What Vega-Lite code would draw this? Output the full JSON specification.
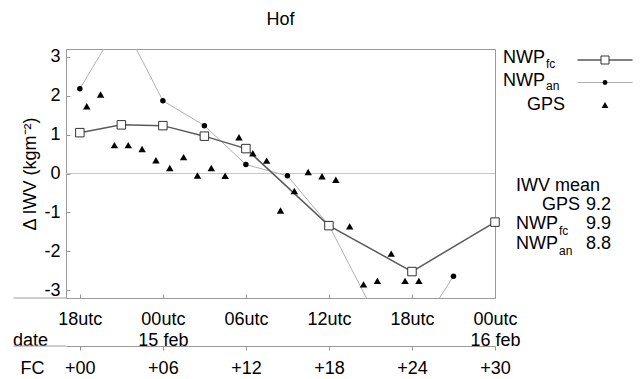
{
  "$schema": "https://vega.github.io/schema/vega-lite/v6.json",
  "width": 429,
  "height": 249,
  "autosize": {"type": "none"},
  "padding": {"left": 66, "top": 49, "right": 145, "bottom": 81},
  "background": "white",
  "title": {"text": "Hof", "anchor": "middle", "frame": "group", "fontSize": 18, "fontWeight": "normal", "font": "Liberation Sans", "color": "#000", "baseline": "bottom", "offset": 1},
  "datasets": {
    "fc": [
      {"h": 0, "v": 1.05}, {"h": 3, "v": 1.25}, {"h": 6, "v": 1.23}, {"h": 9, "v": 0.96},
      {"h": 12, "v": 0.64}, {"h": 18, "v": -1.34}, {"h": 24, "v": -2.52}, {"h": 30, "v": -1.25}
    ],
    "an": [
      {"h": 0, "v": 2.18}, {"h": 3, "v": 3.95}, {"h": 6, "v": 1.87}, {"h": 9, "v": 1.23},
      {"h": 12, "v": 0.23}, {"h": 15, "v": -0.06}, {"h": 18, "v": -1.33}, {"h": 21, "v": -3.4},
      {"h": 24, "v": -4.3}, {"h": 27, "v": -2.64}
    ],
    "gps": [
      {"h": 0.5, "v": 1.73}, {"h": 1.5, "v": 2.03}, {"h": 2.5, "v": 0.73}, {"h": 3.5, "v": 0.73},
      {"h": 4.5, "v": 0.63}, {"h": 5.5, "v": 0.34}, {"h": 6.5, "v": 0.14}, {"h": 7.5, "v": 0.42},
      {"h": 8.5, "v": -0.05}, {"h": 9.5, "v": 0.14}, {"h": 10.5, "v": -0.06}, {"h": 11.5, "v": 0.93},
      {"h": 12.5, "v": 0.52}, {"h": 13.5, "v": 0.33}, {"h": 14.5, "v": -0.95}, {"h": 15.5, "v": -0.45},
      {"h": 16.5, "v": 0.04}, {"h": 17.5, "v": -0.07}, {"h": 18.5, "v": -0.16}, {"h": 19.5, "v": -1.36},
      {"h": 20.5, "v": -2.85}, {"h": 21.5, "v": -2.76}, {"h": 22.5, "v": -2.06}, {"h": 23.5, "v": -2.76},
      {"h": 24.5, "v": -2.76}
    ],
    "side": [
      {"part": "legend", "key": "fc", "name": "NWP", "sub": "fc"},
      {"part": "legend", "key": "an", "name": "NWP", "sub": "an"},
      {"part": "legend", "key": "gps", "name": "GPS", "sub": ""},
      {"part": "table", "key": "head", "name": "IWV mean", "sub": ""},
      {"part": "table", "key": "gps", "name": "GPS", "sub": "", "mean": 9.2},
      {"part": "table", "key": "fc", "name": "NWP", "sub": "fc", "mean": 9.9},
      {"part": "table", "key": "an", "name": "NWP", "sub": "an", "mean": 8.8}
    ],
    "one": [{}]
  },
  "config": {
    "font": "Liberation Sans",
    "view": {"stroke": "#999999", "strokeWidth": 1},
    "axis": {
      "grid": false,
      "labelFont": "Liberation Sans", "labelFontSize": 18, "labelColor": "#000",
      "titleFont": "Liberation Sans", "titleFontSize": 18, "titleFontWeight": "normal", "titleColor": "#000",
      "tickColor": "#999999", "domainColor": "#999999"
    }
  },
  "layer": [
    {
      "layer": [
        {
          "data": {"name": "one"},
          "mark": {"type": "rule", "color": "#c8c8c8", "strokeWidth": 1},
          "encoding": {"y": {"datum": 0, "type": "quantitative"}}
        },
        {
          "data": {"name": "one"},
          "mark": {"type": "rule", "color": "#999999", "strokeWidth": 1},
          "encoding": {
            "x": {"datum": -4.8, "type": "quantitative", "axis": null},
            "x2": {"datum": -1},
            "y": {"datum": -3.2, "type": "quantitative"}
          }
        },
        {
          "data": {"name": "one"},
          "mark": {"type": "rule", "color": "#999999", "strokeWidth": 1},
          "encoding": {
            "x": {"datum": -4.8, "type": "quantitative", "axis": null},
            "x2": {"datum": -1},
            "y": {"datum": -4.434, "type": "quantitative"}
          }
        },
        {
          "data": {"name": "an"},
          "mark": {"type": "line", "color": "#b0b0b0", "strokeWidth": 1, "clip": true},
          "encoding": {
            "x": {
              "field": "h", "type": "quantitative",
              "scale": {"domain": [-1, 30], "nice": false, "zero": false},
              "axis": {
                "orient": "bottom", "values": [0, 6, 12, 18, 24, 30],
                "labelExpr": "datum.value == 0 ? ['18utc'] : datum.value == 6 ? ['00utc', '15 feb'] : datum.value == 12 ? ['06utc'] : datum.value == 18 ? ['12utc'] : datum.value == 24 ? ['18utc'] : ['00utc', '16 feb']",
                "labelBaseline": "top", "labelLineHeight": 21, "labelFlush": false, "labelOverlap": false,
                "labelPadding": 16, "tickSize": -4, "domain": false,
                "title": "date", "titleX": -36, "titleY": 42, "titleAlign": "center", "titleBaseline": "middle", "titleAngle": 0
              }
            },
            "y": {
              "field": "v", "type": "quantitative",
              "scale": {"domain": [-3.2, 3.2], "nice": false, "zero": false},
              "axis": {
                "orient": "left", "values": [-3, -2, -1, 0, 1, 2, 3],
                "labelExpr": "'' + datum.value", "tickSize": -4, "labelPadding": 10, "domain": false,
                "title": "Δ IWV (kgm⁻²)", "titleX": -36, "titleY": 124.5, "titleAngle": 270,
                "titleAlign": "center", "titleBaseline": "middle"
              }
            }
          }
        },
        {
          "data": {"name": "fc"},
          "mark": {"type": "line", "color": "#5a5a5a", "strokeWidth": 1.5},
          "encoding": {
            "x": {
              "field": "h", "type": "quantitative",
              "axis": {
                "orient": "bottom", "offset": 48, "values": [0, 6, 12, 18, 24, 30],
                "labelExpr": "'+' + (datum.value < 10 ? '0' : '') + datum.value",
                "labelFlush": false, "labelOverlap": false, "labelBaseline": "top", "labelPadding": 9,
                "tickSize": 4, "domain": true,
                "title": "FC", "titleX": -34, "titleY": 22, "titleAlign": "center", "titleBaseline": "middle", "titleAngle": 0
              }
            },
            "y": {"field": "v", "type": "quantitative"}
          }
        },
        {
          "data": {"name": "an"},
          "mark": {"type": "point", "shape": "circle", "filled": true, "color": "#000", "size": 30, "opacity": 1, "clip": true},
          "encoding": {
            "x": {"field": "h", "type": "quantitative", "axis": null},
            "y": {"field": "v", "type": "quantitative"}
          }
        },
        {
          "data": {"name": "gps"},
          "mark": {"type": "point", "shape": "triangle-up", "filled": true, "color": "#000", "size": 55, "opacity": 1},
          "encoding": {
            "x": {"field": "h", "type": "quantitative", "axis": null},
            "y": {"field": "v", "type": "quantitative"}
          }
        },
        {
          "data": {"name": "fc"},
          "mark": {"type": "point", "shape": "square", "filled": true, "fill": "#ffffff", "stroke": "#333333", "strokeWidth": 1, "size": 72, "opacity": 1},
          "encoding": {
            "x": {"field": "h", "type": "quantitative", "axis": null},
            "y": {"field": "v", "type": "quantitative"}
          }
        }
      ],
      "resolve": {"axis": {"x": "independent"}}
    },
    {
      "data": {"name": "side"},
      "layer": [
        {
          "transform": [{"filter": "datum.part == 'legend'"}],
          "encoding": {
            "y": {"field": "key", "type": "nominal", "scale": {"type": "point", "domain": ["fc", "an", "gps"], "range": [11, 56], "padding": 0}, "axis": null}
          },
          "layer": [
            {
              "transform": [{"filter": "datum.sub != ''"}],
              "mark": {"type": "text", "align": "right", "baseline": "middle", "dy": -2, "fontSize": 18, "fill": "#000"},
              "encoding": {"x": {"datum": 33.613, "type": "quantitative", "scale": {"domain": [-1, 30]}, "axis": null}, "text": {"field": "name"}}
            },
            {
              "transform": [{"filter": "datum.sub == ''"}],
              "mark": {"type": "text", "align": "right", "baseline": "middle", "dy": 0, "fontSize": 18, "fill": "#000"},
              "encoding": {"x": {"datum": 35.058, "type": "quantitative", "scale": {"domain": [-1, 30]}, "axis": null}, "text": {"field": "name"}}
            },
            {
              "transform": [{"filter": "datum.sub != ''"}],
              "mark": {"type": "text", "align": "left", "baseline": "middle", "dx": 1, "dy": 3.5, "fontSize": 12, "fill": "#000"},
              "encoding": {"x": {"datum": 33.613, "type": "quantitative", "scale": {"domain": [-1, 30]}, "axis": null}, "text": {"field": "sub"}}
            },
            {
              "transform": [{"filter": "datum.key == 'fc'"}],
              "mark": {"type": "point", "shape": "M-1,0L1,0", "filled": false, "stroke": "#555555", "strokeWidth": 1.5, "size": 3025, "opacity": 1},
              "encoding": {"x": {"datum": 37.949, "type": "quantitative", "scale": {"domain": [-1, 30]}, "axis": null}}
            },
            {
              "transform": [{"filter": "datum.key == 'an'"}],
              "mark": {"type": "point", "shape": "M-1,0L1,0", "filled": false, "stroke": "#b0b0b0", "strokeWidth": 1, "size": 3025, "opacity": 1},
              "encoding": {"x": {"datum": 37.949, "type": "quantitative", "scale": {"domain": [-1, 30]}, "axis": null}}
            },
            {
              "transform": [{"filter": "datum.key == 'fc'"}],
              "mark": {"type": "point", "shape": "square", "filled": true, "fill": "#ffffff", "stroke": "#333333", "strokeWidth": 1, "size": 64, "opacity": 1},
              "encoding": {"x": {"datum": 37.949, "type": "quantitative", "scale": {"domain": [-1, 30]}, "axis": null}}
            },
            {
              "transform": [{"filter": "datum.key == 'an'"}],
              "mark": {"type": "point", "shape": "circle", "filled": true, "color": "#000", "size": 24, "opacity": 1},
              "encoding": {"x": {"datum": 37.949, "type": "quantitative", "scale": {"domain": [-1, 30]}, "axis": null}}
            },
            {
              "transform": [{"filter": "datum.key == 'gps'"}],
              "mark": {"type": "point", "shape": "triangle-up", "filled": true, "color": "#000", "size": 45, "opacity": 1},
              "encoding": {"x": {"datum": 37.949, "type": "quantitative", "scale": {"domain": [-1, 30]}, "axis": null}}
            }
          ]
        },
        {
          "transform": [{"filter": "datum.part == 'table'"}],
          "encoding": {
            "y": {"field": "key", "type": "nominal", "scale": {"type": "point", "domain": ["head", "gps", "fc", "an"], "range": [136.5, 194.5], "padding": 0}, "axis": null}
          },
          "layer": [
            {
              "transform": [{"filter": "datum.key == 'head'"}],
              "mark": {"type": "text", "align": "center", "baseline": "middle", "fontSize": 18, "fill": "#000"},
              "encoding": {"x": {"datum": 34.553, "type": "quantitative", "scale": {"domain": [-1, 30]}, "axis": null}, "text": {"field": "name"}}
            },
            {
              "transform": [{"filter": "datum.sub != ''"}],
              "mark": {"type": "text", "align": "right", "baseline": "middle", "fontSize": 18, "fill": "#000"},
              "encoding": {"x": {"datum": 34.553, "type": "quantitative", "scale": {"domain": [-1, 30]}, "axis": null}, "text": {"field": "name"}}
            },
            {
              "transform": [{"filter": "datum.key == 'gps'"}],
              "mark": {"type": "text", "align": "right", "baseline": "middle", "fontSize": 18, "fill": "#000"},
              "encoding": {"x": {"datum": 36.143, "type": "quantitative", "scale": {"domain": [-1, 30]}, "axis": null}, "text": {"field": "name"}}
            },
            {
              "transform": [{"filter": "datum.sub != ''"}],
              "mark": {"type": "text", "align": "left", "baseline": "middle", "dx": 1, "dy": 7, "fontSize": 12, "fill": "#000"},
              "encoding": {"x": {"datum": 34.553, "type": "quantitative", "scale": {"domain": [-1, 30]}, "axis": null}, "text": {"field": "sub"}}
            },
            {
              "transform": [{"filter": "datum.key != 'head'"}],
              "mark": {"type": "text", "align": "left", "baseline": "middle", "fontSize": 18, "fill": "#000"},
              "encoding": {"x": {"datum": 36.576, "type": "quantitative", "scale": {"domain": [-1, 30]}, "axis": null}, "text": {"field": "mean", "format": ".1f"}}
            }
          ]
        }
      ],
      "resolve": {"scale": {"y": "independent"}}
    }
  ],
  "resolve": {"scale": {"y": "independent"}, "axis": {"x": "independent", "y": "independent"}}
}
